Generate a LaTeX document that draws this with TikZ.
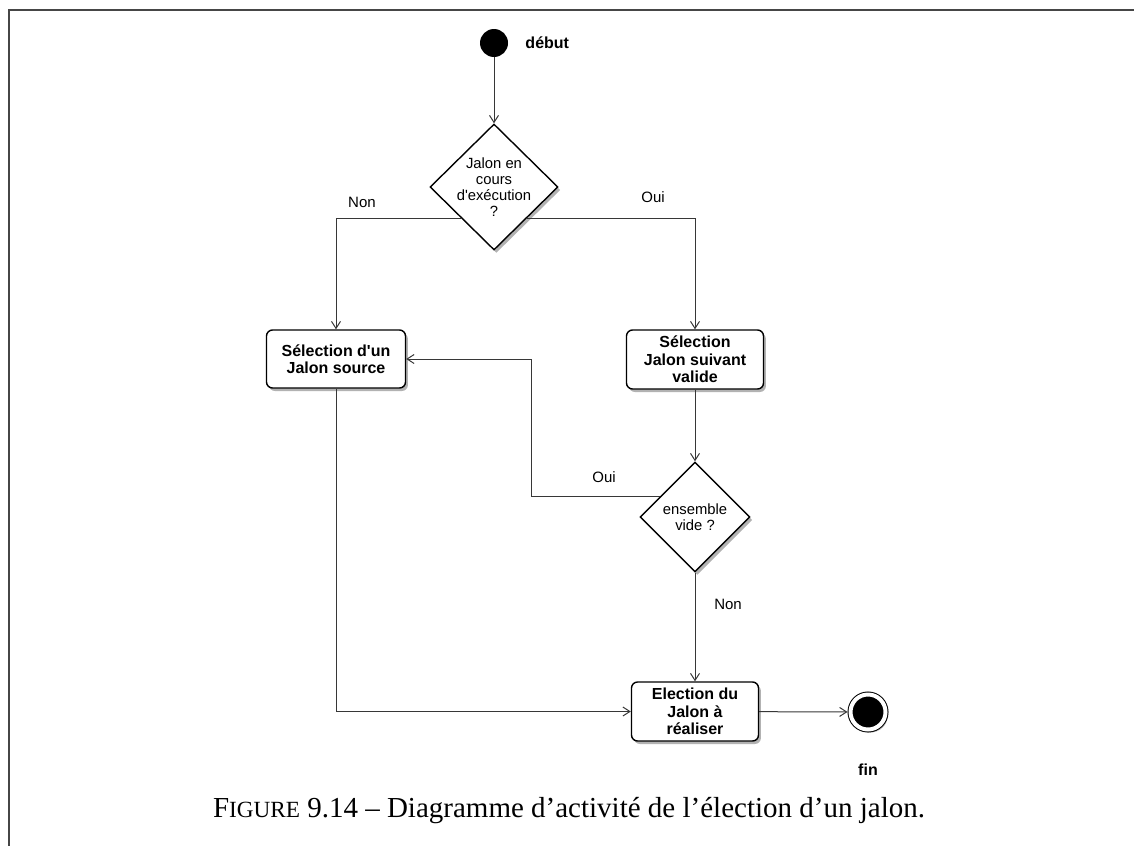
\documentclass[tikz,border=0pt]{standalone}
\usepackage{fontspec}
\setmainfont{Liberation Serif}
\newfontfamily\diafont{Liberation Sans}
\usetikzlibrary{arrows.meta,positioning,shapes.geometric,shadows}
\definecolor{linegray}{RGB}{55,55,55}
\definecolor{framegray}{RGB}{70,70,70}

\begin{document}
\begin{tikzpicture}[x=0.5pt,y=-0.5pt,
  every node/.style={font=\diafont\fontsize{7.5}{8.5}\selectfont,align=center,text=black},
  softshadow/.style={drop shadow={shadow xshift=1.2pt,shadow yshift=-1.5pt,opacity=0.3,fill=black}},
  act/.style={draw,rounded corners=3pt,fill=white,line width=0.7pt,inner sep=0pt,softshadow,font=\diafont\bfseries\fontsize{8}{8.7}\selectfont},
  decision/.style={diamond,draw,fill=white,line width=0.7pt,inner sep=0pt,softshadow},
  dectext/.style={font=\diafont\fontsize{7.4}{8}\selectfont},
  startdot/.style={circle,fill=black,minimum size=14pt,inner sep=0pt},
  stopdot/.style={circle,fill=black,draw=black,double=white,double distance=2pt,line width=0.5pt,minimum size=17.5pt,inner sep=0pt,outer sep=1.5pt,softshadow},
  boldlbl/.style={font=\diafont\bfseries\fontsize{8}{9}\selectfont},
  flow/.style={draw=linegray,line width=0.5pt,-{Straight Barb[length=3.5pt,width=4.5pt]}}]
\useasboundingbox (0,0) rectangle (1134,846);
\draw[framegray,line width=1pt] (1134,9.5) -- (9,9.5) -- (9,846);
% nodes
\node[startdot] (start) at (494,43) {};
\node[boldlbl,right=5pt of start] (debut) {début};
\node[decision,minimum width=64pt,minimum height=63pt] (dec1) at (494,187) {};
\node[dectext] (q1) at (dec1) {Jalon en\\cours\\d'exécution\\?};
\node[act,minimum width=69.5pt,minimum height=29pt] (box1) at (336,359) {Sélection d'un\\Jalon source};
\node[act,minimum width=68.5pt,minimum height=29.5pt] (box2) at (695,359.5) {Sélection\\Jalon suivant\\valide};
\node[decision,minimum width=55pt,minimum height=55pt] (dec2) at (695,517) {};
\node[dectext] (q2) at (dec2) {ensemble\\vide ?};
\node[act,minimum width=63.5pt,minimum height=29.5pt] (box3) at (695,711.5) {Election du\\Jalon à\\réaliser};
\node[stopdot] (stop) at (868,712) {};
\node[boldlbl,below=12pt of stop] (fin) {fin};
% labels
\node (non1) at (362,202) {Non};
\node (oui1) at (653,197) {Oui};
\node (oui2) at (604,477) {Oui};
\node (non2) at (728,604) {Non};
% connectors
\draw[flow] (start) -- (dec1);
\draw[flow] (dec1.south west) -| (box1);
\draw[flow] (dec1.south east) -| (box2);
\draw[flow] (box2) -- (dec2);
\draw[flow] (dec2.150) -- ++(-128,0) |- (box1);
\draw[flow] (dec2) -- (box3);
\draw[flow] (box1) |- (box3);
\draw[flow] (box3) -- (stop);
% caption
\node[font=\rmfamily\fontsize{14.5}{17}\selectfont] (cap) at (569,811) {F{\fontsize{11.6}{17}\selectfont IGURE} 9.14 – Diagramme d’activité de l’élection d’un jalon.};
\end{tikzpicture}
\end{document}
